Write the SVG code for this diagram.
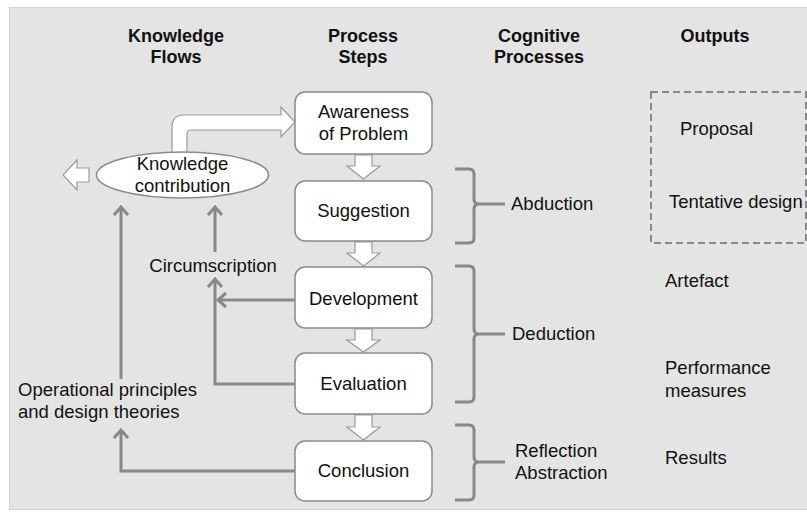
<svg xmlns="http://www.w3.org/2000/svg" width="807" height="512" viewBox="0 0 807 512">
<defs>
<style>
text{font-family:"Liberation Sans",Arial,sans-serif;font-size:18.5px;fill:#111}
.h{font-weight:bold;font-size:18px}
.m{text-anchor:middle}
.box{fill:#fff;stroke:#8a8a8a;stroke-width:1.5}
.blk{fill:#fff;stroke:#999;stroke-width:1.2;stroke-linejoin:miter}
.con{fill:none;stroke:#888;stroke-width:3}
.br{fill:none;stroke:#888;stroke-width:3}
</style>
<marker id="ah" markerUnits="userSpaceOnUse" markerWidth="20" markerHeight="20" viewBox="-12 -10 14 20" refX="0" refY="0" orient="auto">
<path d="M-8,-7 L0,0 L-8,7" fill="none" stroke="#888" stroke-width="3"/>
</marker>
</defs>
<rect x="9.5" y="7.5" width="800" height="502" fill="#e4e4e4" stroke="#d2d2d2"/>

<g id="headers">
<text class="h m" x="176" y="42">Knowledge</text>
<text class="h m" x="176" y="63">Flows</text>
<text class="h m" x="363" y="42">Process</text>
<text class="h m" x="363" y="63">Steps</text>
<text class="h m" x="539" y="42">Cognitive</text>
<text class="h m" x="539" y="63">Processes</text>
<text class="h m" x="715" y="42">Outputs</text>
</g>

<g id="connectors">
<path class="blk" d="M172,160 V127 Q172,115 184,115 H281 V107 L295,122 L281,137 V130 H191 Q187,130 187,134 V160 Z"/>
<path class="blk" d="M89,168 H77 V160 L63,175 L77,190 V182 H89 Z"/>
<path class="blk" d="M355,155 V166 H347 L363.5,179 L380,166 H372 V155 Z"/>
<path class="blk" d="M355,242 V253 H347 L363.5,266 L380,253 H372 V242 Z"/>
<path class="blk" d="M355,329 V340 H347 L363.5,352 L380,340 H372 V329 Z"/>
<path class="blk" d="M355,415 V427 H347 L363.5,440 L380,427 H372 V415 Z"/>
<path class="con" d="M295,300 H218" marker-end="url(#ah)"/>
<path class="con" d="M295,384 H215 V279" marker-end="url(#ah)"/>
<path class="con" d="M295,471 H121 V430" marker-end="url(#ah)"/>
<path class="con" d="M121,379 V207" marker-end="url(#ah)"/>
<path class="con" d="M215,252 V207" marker-end="url(#ah)"/>
</g>

<g id="knowledge-contribution">
<ellipse cx="182.5" cy="175" rx="86" ry="23" fill="#fff" stroke="#8a8a8a" stroke-width="1.5"/>
<text class="m" x="182.5" y="170">Knowledge</text>
<text class="m" x="182.5" y="192">contribution</text>
</g>

<g id="awareness">
<rect class="box" x="295" y="92" width="137" height="62" rx="10"/>
<text class="m" x="363.5" y="118">Awareness</text>
<text class="m" x="363.5" y="140">of Problem</text>
</g>
<g id="suggestion">
<rect class="box" x="295" y="181" width="137" height="60" rx="10"/>
<text class="m" x="363.5" y="217">Suggestion</text>
</g>
<g id="development">
<rect class="box" x="295" y="267" width="137" height="61" rx="10"/>
<text class="m" x="363.5" y="305">Development</text>
</g>
<g id="evaluation">
<rect class="box" x="295" y="353" width="137" height="61" rx="10"/>
<text class="m" x="363.5" y="390">Evaluation</text>
</g>
<g id="conclusion">
<rect class="box" x="295" y="441" width="137" height="60" rx="10"/>
<text class="m" x="363.5" y="477">Conclusion</text>
</g>

<g id="labels">
<text class="m" x="213" y="272">Circumscription</text>
<text x="18" y="396">Operational principles</text>
<text x="18" y="418">and design theories</text>
</g>

<g id="abduction">
<path class="br" d="M455,169 H469 Q474,169 474,174 V199 Q474,204 479,204 Q474,204 474,209 V238 Q474,243 469,243 H455 M479,204 H505"/>
<text x="511" y="210">Abduction</text>
</g>
<g id="deduction">
<path class="br" d="M455,266 H469 Q474,266 474,271 V329 Q474,334 479,334 Q474,334 474,339 V397 Q474,402 469,402 H455 M479,334 H505"/>
<text x="512" y="340">Deduction</text>
</g>
<g id="reflection">
<path class="br" d="M455,425 H469 Q474,425 474,430 V457 Q474,462 479,462 Q474,462 474,467 V495 Q474,500 469,500 H455 M479,462 H505"/>
<text x="515" y="457">Reflection</text>
<text x="515" y="479">Abstraction</text>
</g>

<g id="outputs">
<rect x="651" y="92" width="155" height="151" fill="none" stroke="#888" stroke-width="2" stroke-dasharray="7,4"/>
<text x="680" y="135">Proposal</text>
<text x="669" y="208">Tentative design</text>
<text x="665" y="287">Artefact</text>
<text x="665" y="374">Performance</text>
<text x="665" y="397">measures</text>
<text x="665" y="464">Results</text>
</g>
</svg>
